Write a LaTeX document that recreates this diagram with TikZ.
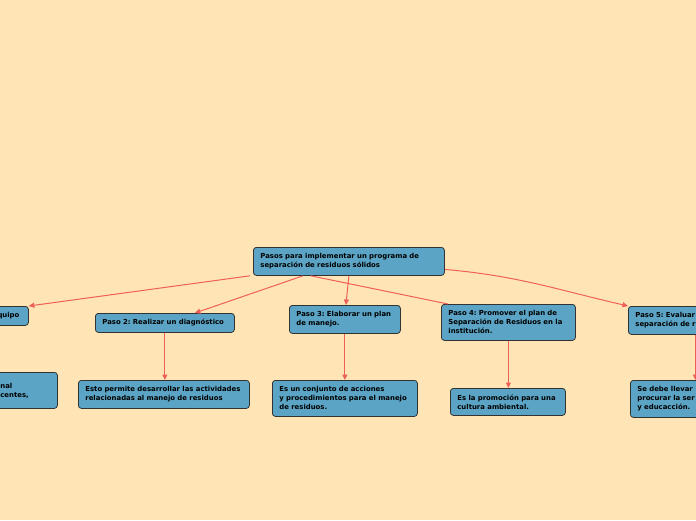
\documentclass[tikz,border=0pt]{standalone}
\usepackage{fontspec}
\setmainfont{DejaVu Sans}
\usepackage{xcolor}
\usetikzlibrary{arrows.meta}

\definecolor{bgcream}{HTML}{FFE5B5}
\definecolor{boxblue}{HTML}{5BA4C5}
\definecolor{linkred}{HTML}{EE5F5B}

\begin{document}
\frenchspacing
\begin{tikzpicture}[x=1pt, y=-1pt,
  box/.style={draw=black!80, fill=boxblue, rounded corners=3pt, line width=0.8pt,
    anchor=north west, align=left, inner xsep=7pt, inner ysep=0pt,
    font=\bfseries\fontsize{6.9}{9}\selectfont},
  link/.style={linkred, line width=1pt, -{Triangle[length=5.5pt, width=5pt]}}]
  % Canvas
  \useasboundingbox (0,0) rectangle (696,520);
  \clip (0,0) rectangle (696,520);
  \fill[bgcream] (0,0) rectangle (696,520);

  % Root
  \node[box, text width=177pt, minimum height=28pt] (root) at (253,247)
    {Pasos para implementar un programa de\\separación de residuos sólidos};

  % Steps
  \node[box, text width=124pt, minimum height=19pt, align=right, inner xsep=9pt] (paso1) at (-114,306) {quipo};
  \node[box, text width=125pt, minimum height=19pt] (paso2) at (95,313) {Paso 2: Realizar un diagnóstico};
  \node[box, text width=97pt, minimum height=28pt] (paso3) at (289,305) {Paso 3: Elaborar un plan\\de manejo.};
  \node[box, text width=120pt, minimum height=36pt] (paso4) at (441,304)
    {Paso 4: Promover el plan de\\Separación de Residuos en la\\institución.};
  \node[box, text width=120pt, minimum height=28pt] (paso5) at (628,306) {Paso 5: Evaluar\\separación de r};

  % Descriptions
  \node[box, text width=50pt, minimum height=36pt] (desc1) at (-7,372) {nal\\centes,};
  \node[box, text width=157pt, minimum height=28pt] (desc2) at (78,380)
    {Esto permite desarrollar las actividades\\relacionadas al manejo de residuos};
  \node[box, text width=131pt, minimum height=36pt] (desc3) at (272,380)
    {Es un conjunto de acciones\\y procedimientos para el manejo\\de residuos.};
  \node[box, text width=101pt, minimum height=27pt] (desc4) at (450,388) {Es la promoción para una\\cultura ambiental.};
  \node[box, text width=116pt, minimum height=37pt] (desc5) at (630,380)
    {Se debe llevar\\procurar la ser\\y educacción.};

  % Links from root
  \draw[link] ([xshift=-3pt]root.south west) -- (paso1.north east);
  \draw[link] ([xshift=50pt]root.south west) -- ([xshift=30pt]paso2.north);
  \draw[link] (root.south) -- ([xshift=1pt]paso3.north);
  \draw[link, -] ([xshift=-134pt]root.south east) -- ([xshift=7pt]paso4.north west);
  \draw[link] ([yshift=-8pt]root.east) to[out=-5, in=167] (paso5.north west);

  % Links to descriptions
  \foreach \a/\b in {paso2/desc2, paso3/desc3, paso4/desc4, paso5/desc5}
    \draw[link] (\a.south) -- (\a.south |- \b.north);
\end{tikzpicture}
\end{document}
